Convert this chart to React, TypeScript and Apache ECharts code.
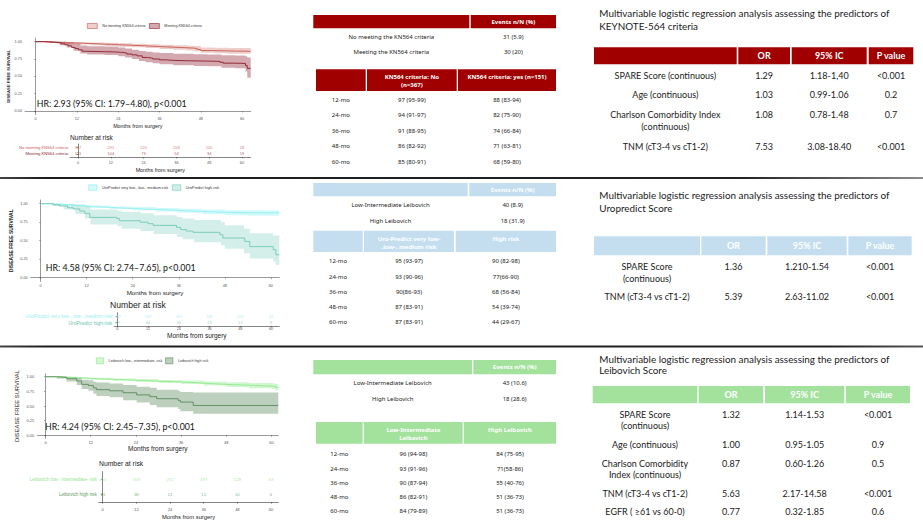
import React, { useEffect, useRef } from 'react';
import * as echarts from 'echarts';

// ---------------------------------------------------------------------------
// Shared scales and labels
// ---------------------------------------------------------------------------
const monthTicks = [0, 12, 24, 36, 48, 60];
const survivalTicks = [0, 0.25, 0.5, 0.75, 1];
const landmarks = ['12-mo', '24-mo', '36-mo', '48-mo', '60-mo'];
const eventsHeader = 'Events n/N (%)';
const regressionHeader = ['OR', '95% IC', 'P value'];
const yTitle = 'DISEASE FREE SURVIVAL';
const xTitle = 'Months from surgery';
const riskTitle = 'Number at risk';

// ---------------------------------------------------------------------------
// KEYNOTE-564 criteria
// ---------------------------------------------------------------------------
const knGroups = ['No meeting KN564 criteria', 'Meeting KN564 criteria'];
// [month, survival]
const knNoCurve = [
  [0, 1], [2, 0.996], [4, 0.992], [6, 0.988], [8, 0.985], [10, 0.981], [12, 0.977], [14, 0.973],
  [16, 0.969], [18, 0.965], [20, 0.961], [22, 0.957], [24, 0.952], [26, 0.948], [28, 0.944],
  [30, 0.94], [32, 0.935], [34, 0.93], [36, 0.925], [38, 0.921], [40, 0.916], [42, 0.912],
  [44, 0.907], [46, 0.9], [47, 0.886], [48, 0.872], [51, 0.868], [55, 0.864], [58, 0.862], [62.5, 0.862],
];
// [month, lower, upper]
const knNoBand = [
  [0, 1, 1], [3, 0.985, 1], [6, 0.975, 0.998], [9, 0.968, 0.996], [12, 0.958, 0.992], [16, 0.947, 0.988],
  [20, 0.937, 0.983], [24, 0.928, 0.976], [28, 0.918, 0.97], [32, 0.907, 0.963], [36, 0.896, 0.955],
  [40, 0.884, 0.948], [44, 0.872, 0.942], [46, 0.862, 0.937], [48, 0.84, 0.915], [52, 0.832, 0.912],
  [56, 0.826, 0.91], [62.5, 0.82, 0.91],
];
const knYesCurve = [
  [0, 1], [3, 0.995], [5, 0.988], [6.5, 0.98], [7.5, 0.968], [8.5, 0.955], [9.5, 0.94], [10.5, 0.915],
  [11.5, 0.9], [12.5, 0.882], [13.5, 0.862], [14.5, 0.856], [19, 0.852], [23, 0.846], [25, 0.836],
  [26.5, 0.822], [28, 0.81], [29.5, 0.795], [31, 0.772], [32.5, 0.762], [34, 0.75], [36, 0.738],
  [38, 0.73], [40, 0.724], [45, 0.72], [50, 0.716], [53.5, 0.704], [54.5, 0.69], [58, 0.686],
  [61, 0.655], [61.5, 0.615], [62.5, 0.615],
];
const knYesBand = [
  [0, 1, 1], [4, 0.98, 1], [7, 0.95, 0.998], [9, 0.915, 0.99], [11, 0.87, 0.97], [13, 0.83, 0.945],
  [15, 0.815, 0.935], [20, 0.808, 0.93], [24, 0.79, 0.915], [26, 0.77, 0.9], [28, 0.75, 0.885],
  [30, 0.72, 0.865], [32, 0.705, 0.855], [34, 0.69, 0.845], [36, 0.675, 0.835], [40, 0.66, 0.825],
  [46, 0.65, 0.82], [50, 0.645, 0.815], [54, 0.625, 0.805], [58, 0.615, 0.8], [61, 0.57, 0.79],
  [61.5, 0.48, 0.77], [62.5, 0.48, 0.77],
];
const knNoAtRisk = [367, 291, 220, 158, 105, 58];
const knYesAtRisk = [151, 104, 73, 54, 34, 19];
const knHR = 'HR: 2.93 (95% CI: 1.79–4.80), p<0.001';
const knEventGroups = ['No meeting the KN564 criteria', 'Meeting the KN564 criteria'];
const knEvents = ['31 (5.9)', '30 (20)'];
const knDfsHeader = ['KN564 criteria: No\n(n=367)', 'KN564 criteria: yes (n=151)'];
const knDfsNo = ['97 (95-99)', '94 (91-97)', '91 (88-95)', '86 (82-92)', '85 (80-91)'];
const knDfsYes = ['88 (83-94)', '82 (75-90)', '74 (66-84)', '71 (63-81)', '68 (59-80)'];
const knTitle = ['Multivariable logistic regression analysis assessing the predictors of', 'KEYNOTE-564 criteria'];
const knPredictors = ['SPARE Score (continuous)', 'Age (continuous)', 'Charlson Comorbidity Index\n(continuous)', 'TNM (cT3-4 vs cT1-2)'];
const knOR = ['1.29', '1.03', '1.08', '7.53'];
const knCI = ['1.18-1,40', '0.99-1.06', '0.78-1.48', '3.08-18.40'];
const knP = ['<0.001', '0.2', '0.7', '<0.001'];

// ---------------------------------------------------------------------------
// UroPredict
// ---------------------------------------------------------------------------
const uroGroups = ['UroPredict very low-, low-, medium-risk', 'UroPredict high-risk'];
const uroLowCurve = [
  [0, 1], [2, 0.996], [4, 0.99], [6, 0.983], [8, 0.976], [10, 0.968], [12, 0.96], [14, 0.955],
  [16, 0.95], [18, 0.945], [20, 0.94], [22, 0.935], [24, 0.93], [26, 0.926], [28, 0.922], [30, 0.918],
  [32, 0.913], [34, 0.909], [36, 0.905], [38, 0.9], [40, 0.896], [42, 0.892], [44, 0.888], [46, 0.884],
  [48, 0.879], [52, 0.877], [56, 0.875], [62.2, 0.875],
];
const uroLowBand = [
  [0, 1, 1], [4, 0.98, 0.998], [8, 0.962, 0.99], [12, 0.945, 0.975], [18, 0.928, 0.962], [24, 0.91, 0.955],
  [30, 0.895, 0.942], [36, 0.878, 0.932], [42, 0.862, 0.922], [48, 0.845, 0.913], [54, 0.838, 0.91],
  [62.2, 0.832, 0.912],
];
const uroHighCurve = [
  [0, 1], [3.3, 0.985], [5, 0.968], [7, 0.945], [8.5, 0.93], [10.2, 0.9], [11.5, 0.87], [12.8, 0.815],
  [19.8, 0.8], [20.5, 0.77], [25.9, 0.75], [28, 0.73], [29.3, 0.707], [35.4, 0.68], [36.5, 0.65],
  [38, 0.63], [39.7, 0.613], [46.7, 0.58], [47.5, 0.536], [53.2, 0.49], [54.5, 0.42], [60.6, 0.378],
  [61.3, 0.31], [62.2, 0.31],
];
const uroHighBand = [
  [0, 1, 1], [3, 0.97, 1], [6, 0.92, 0.995], [9, 0.86, 0.985], [11.5, 0.8, 0.97], [13, 0.72, 0.92],
  [20, 0.7, 0.905], [21, 0.66, 0.89], [26, 0.63, 0.87], [29.5, 0.59, 0.845], [35.5, 0.55, 0.82],
  [37, 0.52, 0.8], [40, 0.48, 0.78], [47, 0.44, 0.75], [48, 0.39, 0.71], [53, 0.33, 0.66],
  [54.5, 0.26, 0.6], [60.6, 0.22, 0.57], [61.3, 0.17, 0.57], [62.2, 0.17, 0.57],
];
const uroLowAtRisk = [449, 349, 263, 189, 125, 61];
const uroHighAtRisk = [69, 46, 30, 23, 14, 8];
const uroHR = 'HR: 4.58 (95% CI: 2.74–7.65), p<0.001';
const uroEventGroups = ['Low-Intermediate Leibovich', 'High Leibovich'];
const uroEvents = ['40 (8.9)', '18 (31.9)'];
const uroDfsHeader = ['Uro-Predict very low-\n,low-, medium risk', 'High risk'];
const uroDfsLow = ['95 (93-97)', '93 (90-96)', '90(86-93)', '87 (83-91)', '87 (83-91)'];
const uroDfsHigh = ['90 (82-98)', '77(66-90)', '68 (56-84)', '54 (39-74)', '44 (29-67)'];
const uroTitle = ['Multivariable logistic regression analysis assessing the predictors of', 'Uropredict Score'];
const uroPredictors = ['SPARE Score\n(continuous)', 'TNM (cT3-4 vs cT1-2)'];
const uroOR = ['1.36', '5.39'];
const uroCI = ['1.210-1.54', '2.63-11.02'];
const uroP = ['<0.001', '<0.001'];

// ---------------------------------------------------------------------------
// Leibovich
// ---------------------------------------------------------------------------
const leiGroups = ['Leibovich low-, intermediate- risk', 'Leibovich high risk'];
const leiLowCurve = [
  [0, 1], [2, 0.997], [4, 0.992], [6, 0.986], [8, 0.979], [10, 0.972], [12, 0.965], [14, 0.96],
  [16, 0.955], [18, 0.95], [20, 0.945], [22, 0.94], [24, 0.935], [26, 0.93], [28, 0.925], [30, 0.92],
  [32, 0.915], [34, 0.91], [36, 0.905], [38, 0.898], [40, 0.89], [42, 0.883], [44, 0.876], [46, 0.87],
  [48, 0.864], [50, 0.86], [52, 0.855], [54, 0.85], [56, 0.845], [58, 0.84], [60, 0.836], [61, 0.82],
  [61.8, 0.81],
];
const leiLowBand = [
  [0, 1, 1], [4, 0.985, 0.999], [8, 0.965, 0.993], [12, 0.948, 0.982], [18, 0.93, 0.97], [24, 0.912, 0.96],
  [30, 0.895, 0.945], [36, 0.875, 0.937], [42, 0.85, 0.92], [48, 0.825, 0.905], [54, 0.805, 0.895],
  [60, 0.79, 0.89], [61, 0.77, 0.875], [61.8, 0.765, 0.865],
];
const leiHighCurve = [
  [0, 1], [3, 0.99], [5.6, 0.966], [8.3, 0.926], [9.6, 0.87], [11.4, 0.85], [12.7, 0.81], [13.5, 0.78],
  [17, 0.76], [20.6, 0.727], [24.2, 0.69], [27.7, 0.66], [29.5, 0.625], [35.2, 0.597], [35.8, 0.568],
  [39.2, 0.51], [61.8, 0.51],
];
const leiHighBand = [
  [0, 1, 1], [3, 0.97, 1], [5.6, 0.92, 0.995], [8.3, 0.86, 0.98], [9.6, 0.79, 0.95], [11.4, 0.76, 0.94],
  [12.7, 0.71, 0.915], [13.5, 0.67, 0.9], [17, 0.65, 0.885], [20.6, 0.6, 0.86], [24.2, 0.56, 0.83],
  [27.7, 0.52, 0.81], [29.5, 0.48, 0.78], [35.2, 0.45, 0.76], [35.8, 0.41, 0.74], [39.2, 0.37, 0.73],
  [61.8, 0.37, 0.73],
];
const leiLowAtRisk = [455, 359, 272, 197, 129, 63];
const leiHighAtRisk = [63, 38, 21, 15, 10, 6];
const leiHR = 'HR: 4.24 (95% CI: 2.45–7.35), p<0.001';
const leiEventGroups = ['Low-Intermediate Leibovich', 'High Leibovich'];
const leiEvents = ['43 (10.6)', '18 (28.6)'];
const leiDfsHeader = ['Low-Intermediate\nLeibovich', 'High Leibovich'];
const leiDfsLow = ['96 (94-98)', '93 (91-96)', '90 (87-94)', '86 (82-91)', '84 (79-89)'];
const leiDfsHigh = ['84 (75-95)', '71(58-86)', '55 (40-76)', '51 (36-73)', '51 (36-73)'];
const leiTitle = ['Multivariable logistic regression analysis assessing the predictors of', 'Leibovich Score'];
const leiPredictors = ['SPARE Score\n(continuous)', 'Age (continuous)', 'Charlson Comorbidity\nIndex (continuous)', 'TNM (cT3-4 vs cT1-2)', 'EGFR ( ≥61 vs 60-0)'];
const leiOR = ['1.32', '1.00', '0.87', '5.63', '0.77'];
const leiCI = ['1.14-1.53', '0.95-1.05', '0.60-1.26', '2.17-14.58', '0.32-1.85'];
const leiP = ['<0.001', '0.9', '0.5', '<0.001', '0.6'];

// ---------------------------------------------------------------------------
// Fonts
// ---------------------------------------------------------------------------
const GG = '"Liberation Sans", Arial, sans-serif';
const CAL = 'Lato, sans-serif';
const APT = '"Noto Sans", sans-serif';

// ---------------------------------------------------------------------------
// Panel layout and styling
// ---------------------------------------------------------------------------
const panels = [
  {
    groups: knGroups, curves: [knNoCurve, knYesCurve], bands: [knNoBand, knYesBand],
    atRisk: [knNoAtRisk, knYesAtRisk], hr: knHR,
    lineColors: ['#c65a50', '#8c1d2c'],
    bandColors: ['rgba(198,90,80,0.3)', 'rgba(140,29,44,0.38)'],
    riskColors: ['#c8574f', '#8c1d2c'],
    km: { left: 25, top: 38.2, width: 225.7, height: 76.3, min: -3.1, max: 62.5, tick: 3.8, yFont: 4.2, yBold: true, yGap: 14.5, xFont: 5.4, xGap: 8.8, xMargin: 2, hrX: 36.7, hrY: 103 },
    legend: { left: 87, top: 23.2, w: 10, h: 5, font: 3.7, gap: 3.5 },
    risk: { left: 70, top: 144, width: 180.7, height: 13, min: -2.93, max: 63.2, label: 4.2, num: 4, tick: 3.8, xMargin: 3.8, xFont: 5.4, xGap: 10.3, titleX: 70, titleY: 137, titleFont: 6.6 },
  },
  {
    groups: uroGroups, curves: [uroLowCurve, uroHighCurve], bands: [uroLowBand, uroHighBand],
    atRisk: [uroLowAtRisk, uroHighAtRisk], hr: uroHR,
    lineColors: ['#8eeef2', '#72c9b6'],
    bandColors: ['rgba(142,238,242,0.38)', 'rgba(114,201,182,0.3)'],
    riskColors: ['#9aeef0', '#6cc7b2'],
    km: { left: 30.7, top: 200, width: 248.6, height: 81.4, min: -2.6, max: 62.2, tick: 3.8, yFont: 5, yBold: true, yGap: 17.4, xFont: 6.2, xGap: 8.5, xMargin: 2.7, hrX: 45.7, hrY: 267 },
    legend: { left: 88.3, top: 184.5, w: 8.4, h: 5.5, font: 3.8, gap: 4 },
    risk: { left: 114.3, top: 312.8, width: 165, height: 13, min: -1.17, max: 63.2, label: 5, num: 4, tick: 3.8, xMargin: 1.2, xFont: 6.5, xGap: 4, titleX: 110, titleY: 304.7, titleFont: 8.6 },
  },
  {
    groups: leiGroups, curves: [leiLowCurve, leiHighCurve], bands: [leiLowBand, leiHighBand],
    atRisk: [leiLowAtRisk, leiHighAtRisk], hr: leiHR,
    lineColors: ['#8ce98c', '#5b8a5b'],
    bandColors: ['rgba(140,233,140,0.38)', 'rgba(91,138,91,0.4)'],
    riskColors: ['#8ee68e', '#5f9a5f'],
    km: { left: 37.3, top: 373.8, width: 241, height: 64.5, min: -2.18, max: 61.8, tick: 4, yFont: 5.8, yBold: false, yGap: 17.3, xFont: 6.5, xGap: 6.2, xMargin: 1.7, hrX: 45, hrY: 426 },
    legend: { left: 96, top: 357.5, w: 7.3, h: 6, font: 3.7, gap: 3 },
    risk: { left: 98.7, top: 471.5, width: 179.6, height: 32.5, min: -1.43, max: 62.6, label: 4.6, num: 4.3, tick: 4, xMargin: 5, xFont: 5.8, xGap: 11.8, titleX: 99, titleY: 463, titleFont: 6.8 },
  },
];

const eventsTables = [
  { groups: knEventGroups, values: knEvents, fill: '#a00000', y: 15, h: 13.3, cells: [[313.3, 469.3], [470.7, 556]], rowY: 37.3, rowStep: 15 },
  { groups: uroEventGroups, values: uroEvents, fill: '#c4def0', y: 183, h: 13.3, cells: [[313.3, 467.7], [469.3, 556]], rowY: 205.3, rowStep: 15.4 },
  { groups: leiEventGroups, values: leiEvents, fill: '#a3e29d', y: 360, h: 14.3, cells: [[313.3, 472], [473.3, 556]], rowY: 383.3, rowStep: 16 },
];

const dfsTables = [
  { header: knDfsHeader, colA: knDfsNo, colB: knDfsYes, fill: '#a00000', y: 69.3, h: 21.7, cells: [[316, 365.7], [367, 456.7], [458, 556]], headY: 77, headGap: 8.3, rowY: 100, rowStep: 15.4 },
  { header: uroDfsHeader, colA: uroDfsLow, colB: uroDfsHigh, fill: '#c4def0', y: 230.7, h: 21.3, cells: [[313.3, 362.7], [364, 454], [455.7, 556]], headY: 238.7, headGap: 8.3, rowY: 261.3, rowStep: 15.25 },
  { header: leiDfsHeader, colA: leiDfsLow, colB: leiDfsHigh, fill: '#a3e29d', y: 422, h: 21.7, cells: [[316, 362.7], [364, 462.7], [464, 556]], headY: 430.3, headGap: 7.4, rowY: 454.3, rowStep: 14.2 },
];

const regressionTables = [
  { title: knTitle, predictors: knPredictors, or: knOR, ci: knCI, p: knP, fill: '#a00000', titleY: 13.3, titleGap: 12.4, y: 47.3, h: 17, cells: [[594, 736.7], [738.3, 790], [791.7, 866.7], [868.7, 913.3]], rowY: 75, rowGap: 19.6, lineGap: 12.2 },
  { title: uroTitle, predictors: uroPredictors, or: uroOR, ci: uroCI, p: uroP, fill: '#c4def0', titleY: 195.3, titleGap: 12.7, y: 236.3, h: 19, cells: [[594, 700], [701.3, 765.7], [767.3, 846.7], [848.3, 911.7]], rowY: 266.7, rowGap: 18, lineGap: 12 },
  { title: leiTitle, predictors: leiPredictors, or: leiOR, ci: leiCI, p: leiP, fill: '#a3e29d', titleY: 358.7, titleGap: 11.6, y: 386, h: 17.3, cells: [[592.7, 697.3], [698.7, 763.3], [765, 844.3], [846, 910]], rowY: 414.3, rowGap: 18.6, lineGap: 11.6 },
];

// ---------------------------------------------------------------------------
// Graphic helpers
// ---------------------------------------------------------------------------
function txt(text: string, x: number, y: number, o: any = {}) {
  const align = o.align || 'center';
  return {
    type: 'text', x, y, silent: true, z: 10,
    style: {
      text, fill: o.fill || '#222', fontSize: o.size || 6, fontFamily: o.family || APT,
      fontWeight: o.weight || 'normal', align, textAlign: align,
      verticalAlign: 'middle', textVerticalAlign: 'middle',
    },
  };
}

function box(x: number, y: number, w: number, h: number, fill: any) {
  return { type: 'rect', silent: true, z: 5, shape: { x, y, width: w, height: h }, style: { fill } };
}

const mid = (c: number[]) => (c[0] + c[1]) / 2;
const TABLE_FONT = 6;
const TABLE_HEAD_FONT = 6;

function eventsTableGraphics(t: any) {
  const out: any[] = [];
  t.cells.forEach((c: number[]) => out.push(box(c[0], t.y, c[1] - c[0], t.h, t.fill)));
  out.push(txt(eventsHeader, mid(t.cells[1]), t.y + t.h / 2, { fill: '#fff', weight: 'bold', size: TABLE_HEAD_FONT }));
  t.groups.forEach((g: string, i: number) => {
    const y = t.rowY + i * t.rowStep;
    out.push(txt(g, mid(t.cells[0]), y, { size: TABLE_FONT }));
    out.push(txt(t.values[i], mid(t.cells[1]), y, { size: TABLE_FONT }));
  });
  return out;
}

function dfsTableGraphics(t: any) {
  const out: any[] = [];
  t.cells.forEach((c: number[]) => out.push(box(c[0], t.y, c[1] - c[0], t.h, t.fill)));
  t.header.forEach((h: string, j: number) => {
    h.split('\n').forEach((line, l) => {
      out.push(txt(line, mid(t.cells[j + 1]), t.headY + l * t.headGap, { fill: '#fff', weight: 'bold', size: TABLE_HEAD_FONT }));
    });
  });
  landmarks.forEach((lm, i) => {
    const y = t.rowY + i * t.rowStep;
    out.push(txt(lm, mid(t.cells[0]), y, { size: TABLE_FONT }));
    out.push(txt(t.colA[i], mid(t.cells[1]), y, { size: TABLE_FONT }));
    out.push(txt(t.colB[i], mid(t.cells[2]), y, { size: TABLE_FONT }));
  });
  return out;
}

function regressionTableGraphics(t: any) {
  const out: any[] = [];
  t.title.forEach((line: string, i: number) => {
    out.push(txt(line, 599.3, t.titleY + i * t.titleGap, { align: 'left', size: 9.9, family: CAL, fill: '#1a1a1a' }));
  });
  t.cells.forEach((c: number[]) => out.push(box(c[0], t.y, c[1] - c[0], t.h, t.fill)));
  regressionHeader.forEach((h, j) => {
    out.push(txt(h, mid(t.cells[j + 1]), t.y + t.h / 2, { fill: '#fff', weight: 'bold', size: 9, family: CAL }));
  });
  let y = t.rowY;
  t.predictors.forEach((pr: string, i: number) => {
    const lines = pr.split('\n');
    lines.forEach((line, l) => out.push(txt(line, mid(t.cells[0]), y + l * t.lineGap, { size: 9, family: CAL, fill: '#1a1a1a' })));
    out.push(txt(t.or[i], mid(t.cells[1]), y, { size: 9, family: CAL, fill: '#1a1a1a' }));
    out.push(txt(t.ci[i], mid(t.cells[2]), y, { size: 9, family: CAL, fill: '#1a1a1a' }));
    out.push(txt(t.p[i], mid(t.cells[3]), y, { size: 9, family: CAL, fill: '#1a1a1a' }));
    y += t.rowGap + (lines.length - 1) * t.lineGap;
  });
  return out;
}

// Confidence band: stepped polygon between lower and upper limits
function bandSeries(band: number[][], color: string, axis: number) {
  return {
    type: 'custom', xAxisIndex: axis, yAxisIndex: axis, silent: true, clip: true, z: 2,
    data: [[band[0][0], band[0][2]]],
    renderItem: (_params: any, api: any) => {
      const upper: number[][] = [];
      const lower: number[][] = [];
      band.forEach((p, i) => {
        const next = band[i + 1];
        upper.push(api.coord([p[0], p[2]]));
        lower.push(api.coord([p[0], p[1]]));
        if (next) {
          upper.push(api.coord([next[0], p[2]]));
          lower.push(api.coord([next[0], p[1]]));
        }
      });
      return { type: 'polygon', shape: { points: upper.concat(lower.reverse()) }, style: { fill: color } };
    },
  };
}

function buildOption() {
  const grid: any[] = [];
  const xAxis: any[] = [];
  const yAxis: any[] = [];
  const series: any[] = [];
  const legend: any[] = [];
  const graphic: any[] = [];
  const axisGrey = { color: '#555', width: 0.6 };

  panels.forEach((p) => {
    // Kaplan-Meier plot
    const gi = grid.length;
    grid.push({ left: p.km.left, top: p.km.top, width: p.km.width, height: p.km.height });
    xAxis.push({
      gridIndex: gi, type: 'value', min: p.km.min, max: p.km.max,
      name: xTitle, nameLocation: 'middle', nameGap: p.km.xGap,
      nameTextStyle: { fontSize: p.km.xFont, color: '#222', fontFamily: GG },
      axisLine: { show: true, lineStyle: axisGrey },
      axisTick: { show: true, length: 1.5, customValues: monthTicks, lineStyle: { color: '#555', width: 0.5 } },
      axisLabel: { customValues: monthTicks, fontSize: p.km.tick, color: '#555', margin: p.km.xMargin, fontFamily: GG },
      splitLine: { show: false },
    });
    yAxis.push({
      gridIndex: gi, type: 'value', min: -0.05, max: 1.05,
      name: yTitle, nameLocation: 'middle', nameRotate: 90, nameGap: p.km.yGap,
      nameTextStyle: { fontSize: p.km.yFont, color: '#222', fontFamily: GG, fontWeight: p.km.yBold ? 'bold' : 'normal' },
      axisLine: { show: true, lineStyle: axisGrey },
      axisTick: { show: true, length: 1.5, customValues: survivalTicks, lineStyle: { color: '#555', width: 0.5 } },
      axisLabel: { customValues: survivalTicks, formatter: (v: number) => v.toFixed(2), fontSize: p.km.tick, color: '#555', margin: 3, fontFamily: GG },
      splitLine: { show: false },
    });
    p.bands.forEach((b, j) => series.push(bandSeries(b, p.bandColors[j], gi)));
    p.curves.forEach((c, j) => series.push({
      type: 'line', name: p.groups[j], xAxisIndex: gi, yAxisIndex: gi, data: c, step: 'end',
      symbol: 'none', showSymbol: false, clip: true, silent: true, z: 3,
      lineStyle: { color: p.lineColors[j], width: 0.9 }, itemStyle: { color: p.lineColors[j] },
    }));
    legend.push({
      left: p.legend.left, top: p.legend.top, orient: 'horizontal', padding: 0, selectedMode: false,
      icon: 'rect', itemWidth: p.legend.w, itemHeight: p.legend.h, itemGap: p.legend.gap,
      textStyle: { fontSize: p.legend.font, color: '#333', fontFamily: GG },
      data: p.groups.map((g, j) => ({ name: g, itemStyle: { color: p.bandColors[j], borderColor: p.lineColors[j], borderWidth: 0.6 } })),
    });
    graphic.push(txt(p.hr, p.km.hrX, p.km.hrY, { align: 'left', size: 8.8, family: CAL, fill: '#111' }));

    // Number-at-risk table
    const ri = grid.length;
    grid.push({ left: p.risk.left, top: p.risk.top, width: p.risk.width, height: p.risk.height });
    xAxis.push({
      gridIndex: ri, type: 'value', min: p.risk.min, max: p.risk.max,
      name: xTitle, nameLocation: 'middle', nameGap: p.risk.xGap,
      nameTextStyle: { fontSize: p.risk.xFont, color: '#222', fontFamily: GG },
      axisLine: { show: true, lineStyle: { color: '#333', width: 0.6 } },
      axisTick: { show: true, length: 1.5, customValues: monthTicks, lineStyle: { color: '#333', width: 0.5 } },
      axisLabel: { customValues: monthTicks, fontSize: p.risk.tick, color: '#555', margin: p.risk.xMargin, fontFamily: GG },
      splitLine: { show: false },
    });
    yAxis.push({
      gridIndex: ri, type: 'category', data: [p.groups[1], p.groups[0]],
      axisLine: { show: true, lineStyle: { color: '#333', width: 0.6 } },
      axisTick: { show: true, alignWithLabel: true, interval: 0, length: 1.5, lineStyle: { color: '#333', width: 0.5 } },
      axisLabel: {
        interval: 0, hideOverlap: false, fontSize: p.risk.label, margin: 2, fontFamily: GG,
        color: (v: string) => (v === p.groups[0] ? p.riskColors[0] : p.riskColors[1]),
      },
      splitLine: { show: false },
    });
    p.atRisk.forEach((vals, j) => series.push({
      type: 'scatter', xAxisIndex: ri, yAxisIndex: ri, symbolSize: 1, silent: true,
      itemStyle: { color: 'rgba(0,0,0,0)' },
      data: vals.map((v, i) => [monthTicks[i], p.groups[j], v]),
      label: { show: true, position: 'inside', formatter: (q: any) => String(q.value[2]), fontSize: p.risk.num, color: p.riskColors[j], fontFamily: GG },
    }));
    graphic.push(txt(riskTitle, p.risk.titleX, p.risk.titleY, { align: 'left', size: p.risk.titleFont, family: GG, fill: '#222' }));
  });

  eventsTables.forEach((t) => graphic.push(...eventsTableGraphics(t)));
  dfsTables.forEach((t) => graphic.push(...dfsTableGraphics(t)));
  regressionTables.forEach((t) => graphic.push(...regressionTableGraphics(t)));

  // Horizontal rules between the three rows of panels
  const rule = (y: number, stops: any[]) => box(0, y, 923, 2, new echarts.graphic.LinearGradient(0, 0, 1, 0, stops));
  graphic.push(rule(177, [
    { offset: 0, color: '#444' }, { offset: 0.05, color: '#1c1c1c' }, { offset: 0.8, color: '#222' }, { offset: 1, color: '#8a8a8a' },
  ]));
  graphic.push(rule(345.5, [
    { offset: 0, color: '#444' }, { offset: 0.05, color: '#1c1c1c' }, { offset: 0.9, color: '#222' }, { offset: 1, color: '#555' },
  ]));

  return {
    animation: false,
    backgroundColor: '#ffffff',
    grid, xAxis, yAxis, series, legend,
    graphic: { elements: graphic },
  };
}

export default function App() {
  const ref = useRef<HTMLDivElement>(null);
  useEffect(() => {
    document.body.style.margin = '0';
    const chart = echarts.init(ref.current as HTMLDivElement, null, { renderer: 'svg' });
    chart.setOption(buildOption() as any);
    return () => chart.dispose();
  }, []);
  return <div ref={ref} style={{ width: 923, height: 521 }} />;
}
